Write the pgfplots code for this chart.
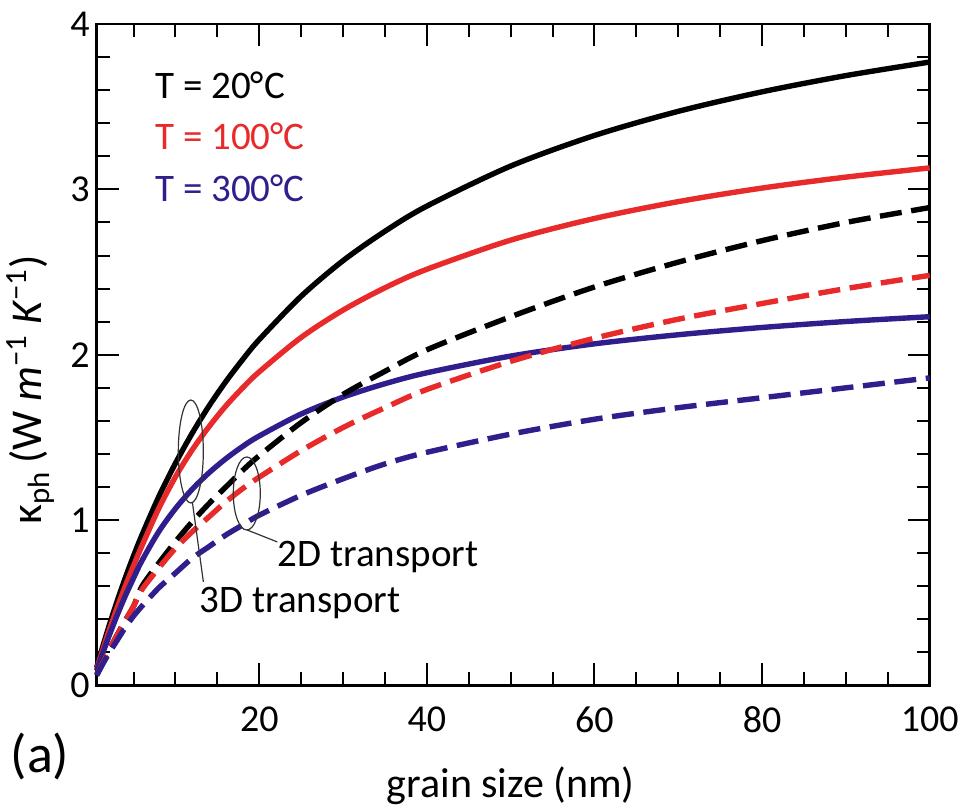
\documentclass[border=0pt]{standalone}
\usepackage{fontspec}
\setmainfont{Carlito}
\usepackage{pgfplots}
\pgfplotsset{compat=1.18}
\definecolor{cred}{RGB}{232,42,42}
\definecolor{cblue}{RGB}{48,30,140}
\pgfplotstableread{
x    bs     rs     us     bd     rd     ud
0.6  0.110  0.100  0.090  0.064  0.065  0.06
1    0.181  0.165  0.150  0.106  0.105  0.10
2    0.348  0.320  0.290  0.207  0.205  0.19
3    0.504  0.465  0.420  0.302  0.300  0.27
4    0.649  0.600  0.540  0.393  0.390  0.35
5    0.784  0.725  0.650  0.479  0.480  0.42
6    0.910  0.845  0.755  0.600  0.580  0.48
8    1.141  1.070  0.930  0.740  0.710  0.59
10   1.344  1.262  1.070  0.870  0.830  0.68
12   1.526  1.425  1.187  0.990  0.930  0.77
14   1.690  1.565  1.286  1.100  1.020  0.84
16   1.837  1.690  1.371  1.200  1.110  0.91
18   1.970  1.799  1.445  1.300  1.190  0.97
20   2.092  1.897  1.509  1.390  1.260  1.03
25   2.354  2.105  1.642  1.590  1.420  1.15
30   2.569  2.270  1.744  1.760  1.560  1.25
35   2.747  2.405  1.825  1.900  1.680  1.34
40   2.899  2.517  1.891  2.030  1.790  1.41
50   3.141  2.693  1.992  2.230  1.960  1.52
60   3.326  2.824  2.066  2.410  2.100  1.61
70   3.472  2.926  2.121  2.560  2.215  1.68
80   3.590  3.008  2.165  2.690  2.310  1.74
90   3.688  3.074  2.201  2.800  2.400  1.80
100  3.770  3.130  2.230  2.890  2.480  1.86
}\data
\begin{document}
\begin{tikzpicture}
\begin{axis}[
  scale only axis, width=416.5pt, height=330.75pt,
  xmin=0.6, xmax=100, ymin=0, ymax=4,
  clip=false,
  xtick={20,40,60,80,100},
  minor xtick={5,10,15,25,30,35,45,50,55,65,70,75,85,90,95},
  ytick={0,1,2,3,4},
  minor ytick={0.2,0.4,0.6,0.8,1.2,1.4,1.6,1.8,2.2,2.4,2.6,2.8,3.2,3.4,3.6,3.8},
  tick align=inside,
  major tick length=11pt, minor tick length=6.5pt,
  every tick/.style={black, line width=1pt},
  axis line style={line width=1.3pt},
  tick label style={font=\fontsize{19}{22}\selectfont},
  /pgf/number format/assume math mode=true,
  xticklabel style={inner sep=0pt, yshift=-10.25pt},
  yticklabel style={inner sep=0pt, xshift=-3.3pt},
  xlabel={grain size (nm)},
  xlabel style={at={(rel axis cs:0.497,-0.1686)}, anchor=base, font=\fontsize{21}{24}\selectfont},
  ylabel={κ\textsubscript{ph}\,(W \textit{m}\textsuperscript{−1} \textit{K}\textsuperscript{−1})},
  ylabel style={at={(rel axis cs:-0.0657,0.447)}, anchor=base, font=\fontsize{22}{26}\selectfont},
  every axis plot/.append style={line width=2.7pt, smooth, line join=round},
]
\addplot[black] table[x=x,y=bs] {\data};
\addplot[cred] table[x=x,y=rs] {\data};
\addplot[cblue] table[x=x,y=us] {\data};
\addplot[black, dash pattern=on 11pt off 4.8pt] table[x=x,y=bd] {\data};
\addplot[cred, dash pattern=on 11pt off 4.8pt] table[x=x,y=rd] {\data};
\addplot[cblue, dash pattern=on 11pt off 4.8pt] table[x=x,y=ud] {\data};

\node[anchor=base west, inner sep=0pt, font=\fontsize{19.5}{23}\selectfont] at (axis cs:7.55,3.551) {T = 20°C};
\node[anchor=base west, inner sep=0pt, text=cred, font=\fontsize{19.5}{23}\selectfont] at (axis cs:7.55,3.239) {T = 100°C};
\node[anchor=base west, inner sep=0pt, text=cblue, font=\fontsize{19.5}{23}\selectfont] at (axis cs:7.55,2.926) {T = 300°C};

\draw[line width=0.6pt, black!80] (axis cs:11.83,1.415) ellipse [x radius=6.25pt, y radius=25.75pt];
\draw[line width=0.6pt, black!80] (axis cs:18.51,1.161) ellipse [x radius=6.75pt, y radius=18.25pt];
\draw[line width=0.6pt, black!80] (axis cs:12.01,1.110) -- (axis cs:13.33,0.626);
\draw[line width=0.6pt, black!80] (axis cs:18.57,0.940) -- (axis cs:22.15,0.868);
\node[anchor=base west, inner sep=0pt, font=\fontsize{19.5}{23}\selectfont] at (axis cs:22.15,0.717) {2D transport};
\node[anchor=base west, inner sep=0pt, font=\fontsize{19.5}{23}\selectfont] at (axis cs:12.86,0.4385) {3D transport};

\node[font=\fontsize{27}{32}\selectfont, inner sep=0pt] at (rel axis cs:-0.068,-0.1073) {(a)};

\coordinate (bbsw) at (rel axis cs:-0.1161,-0.1837);
\coordinate (bbne) at (rel axis cs:1.0412,1.0363);
\end{axis}
\pgfresetboundingbox
\path[use as bounding box] (bbsw) rectangle (bbne);
\end{tikzpicture}
\end{document}
